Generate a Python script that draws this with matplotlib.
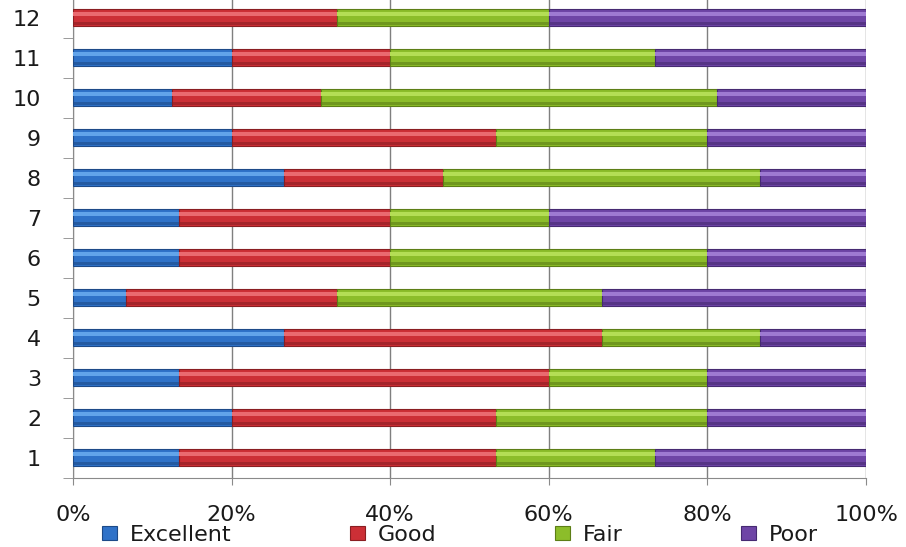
import matplotlib
matplotlib.use("Agg")
import matplotlib.pyplot as plt
import numpy as np

categories = ["1", "2", "3", "4", "5", "6", "7", "8", "9", "10", "11", "12"]
series_names = ["Excellent", "Good", "Fair", "Poor"]
# response counts per category
excellent = [2, 3, 2, 4, 1, 2, 2, 4, 3, 2, 3, 0]
good      = [6, 5, 7, 6, 4, 4, 4, 3, 5, 3, 3, 5]
fair      = [3, 4, 3, 3, 5, 6, 3, 6, 4, 8, 5, 4]
poor      = [4, 3, 3, 2, 5, 3, 6, 2, 3, 3, 4, 6]
x_ticks = [0, 20, 40, 60, 80, 100]
x_tick_labels = ["0%", "20%", "40%", "60%", "80%", "100%"]

main_colors = ["#2F72C8", "#CC2F36", "#8CBD2A", "#6E45A6"]
light_colors = ["#62A4EA", "#EA6A70", "#B4DE55", "#9E7AD2"]
dark_colors = ["#1D4A88", "#8A1E22", "#5C7E16", "#462A72"]

data = np.array([excellent, good, fair, poor], dtype=float)
totals = data.sum(axis=0)
pct = data / totals * 100

fig = plt.figure(figsize=(9.06, 5.47), dpi=100)
ax = fig.add_axes([73/906, (547-477.5)/547, 793/906, 480/547])

y = np.arange(1, len(categories) + 1)
h = 0.42
left = np.zeros(len(categories))
handles = []
for i, name in enumerate(series_names):
    b = ax.barh(y, pct[i], left=left, height=h, color=main_colors[i],
                edgecolor=dark_colors[i], linewidth=0.8, label=name, zorder=3)
    # bevel highlight (upper) and shade (lower)
    ax.barh(y + h*0.22, pct[i], left=left, height=h*0.22, color=light_colors[i],
            linewidth=0, zorder=4)
    ax.barh(y - h*0.36, pct[i], left=left, height=h*0.16, color=dark_colors[i],
            linewidth=0, alpha=0.6, zorder=4)
    handles.append(b)
    left += pct[i]

ax.set_xlim(0, 100)
ax.set_ylim(0.5, 12.5)
ax.set_xticks(x_ticks)
ax.set_xticklabels(x_tick_labels, fontsize=16, color="#1a1a1a")
ax.set_yticks(y)
ax.set_yticklabels(categories, fontsize=16, color="#1a1a1a")
ax.tick_params(axis="y", length=0, pad=23)
ax.tick_params(axis="x", length=5, color="#8a8a8a", pad=15)
# minor ticks between categories on the y axis
ax.set_yticks(np.arange(0.5, 13.0, 1.0), minor=True)
ax.tick_params(axis="y", which="minor", length=7, color="#8a8a8a")

ax.grid(axis="x", color="#7f7f7f", linewidth=1.0, zorder=0)
for s in ["top", "right"]:
    ax.spines[s].set_visible(False)
ax.spines["left"].set_color("#8a8a8a")
ax.spines["bottom"].set_color("#8a8a8a")

leg = fig.legend(handles=handles, labels=series_names, loc="center",
                 bbox_to_anchor=(460/906, 1 - 535/547), ncol=4, frameon=False,
                 fontsize=16, handlelength=0.68, handleheight=0.6,
                 handletextpad=0.6, columnspacing=5.3, borderpad=0)
for t in leg.get_texts():
    t.set_color("#1a1a1a")

fig.savefig("out.png", dpi=100)
